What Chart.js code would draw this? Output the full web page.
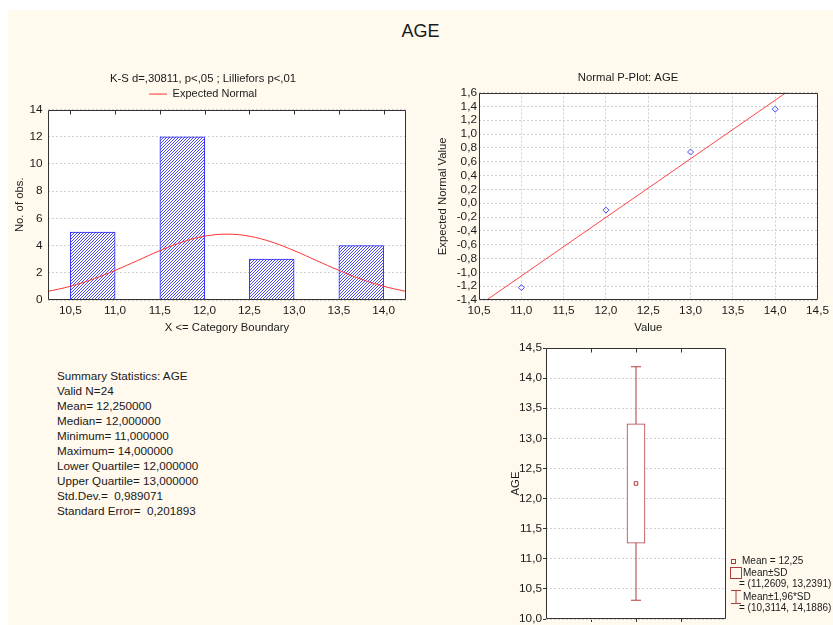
<!DOCTYPE html>
<html>
<head>
<meta charset="utf-8">
<title>AGE</title>
<script src="https://cdn.jsdelivr.net/npm/chart.js@4.4.1/dist/chart.umd.min.js"></script>
<style>
  html, body { margin: 0; padding: 0; background: #ffffff; width: 833px; height: 625px; overflow: hidden; }
  #sheet { position: absolute; left: 8px; top: 10px; width: 825px; height: 615px; background: #FFF9EE; }
  canvas { position: absolute; }
  .txt { position: absolute; font-family: 'Liberation Sans', Arial, sans-serif; color: #1a1a1a; white-space: pre; }
  #mainTitle { left: 8px; width: 825px; top: 20px; line-height: 22px; font-size: 18px; text-align: center; }
  #summary { left: 57px; top: 368px; font-size: 11.7px; line-height: 15px; }
  .leg { font-size: 10px; line-height: 12px; }
  .icon { position: absolute; box-sizing: border-box; border: 1px solid #b03c3c; }
</style>
</head>
<body>
<div id="sheet"></div>
<div id="mainTitle" class="txt">AGE</div>
<canvas id="hist" width="420" height="274" style="left:0px;top:67px"></canvas>
<canvas id="pplot" width="398" height="275" style="left:435px;top:66px"></canvas>
<canvas id="box" width="353" height="295" style="left:480px;top:330px"></canvas>
<div id="summary" class="txt"></div>
<div id="boxLegend"></div>

<script>
// ---- Histogram of AGE (bin width 0,5; label = upper category boundary) ----
const binCenters = [10.75, 11.25, 11.75, 12.25, 12.75, 13.25, 13.75];
const binCounts  = [5, 0, 12, 0, 3, 0, 4];
const boundaryTicks = [10.5, 11.0, 11.5, 12.0, 12.5, 13.0, 13.5, 14.0];
const countTicks = [0, 2, 4, 6, 8, 10, 12, 14];

// Expected normal counts (mean 12,25; SD 0,989071; N 24) sampled every 0,25
const normalX = [10.25, 10.5, 10.75, 11.0, 11.25, 11.5, 11.75, 12.0, 12.25,
                 12.5, 12.75, 13.0, 13.25, 13.5, 13.75, 14.0, 14.25];
const normalY = [0.63, 1.01, 1.53, 2.18, 2.90, 3.63, 4.26, 4.69, 4.84,
                 4.69, 4.26, 3.63, 2.90, 2.18, 1.53, 1.01, 0.63];

// ---- Normal probability plot ----
const ageValues = [11, 12, 13, 14];
const expectedNormal = [-1.22, -0.10, 0.74, 1.36];
const fitLineX = [10.59, 14.13];
const fitLineY = [-1.4, 1.6];
const valueTicks = [10.5, 11.0, 11.5, 12.0, 12.5, 13.0, 13.5, 14.0, 14.5];
const zTicks = [-1.4, -1.2, -1.0, -0.8, -0.6, -0.4, -0.2, 0.0, 0.2, 0.4, 0.6, 0.8, 1.0, 1.2, 1.4, 1.6];

// ---- Box plot: mean, mean±SD, mean±1,96*SD ----
const ageMean = 12.25;
const ageSdRange = [11.2609, 13.2391];
const age196Range = [10.3114, 14.1886];
const ageTicks = [10.0, 10.5, 11.0, 11.5, 12.0, 12.5, 13.0, 13.5, 14.0, 14.5];
const boxSlotTicks = [1, 2, 3];
const boxSlot = 2;

// ---- Summary statistics ----
const summaryLines = [
  'Summary Statistics: AGE',
  'Valid N=24',
  'Mean= 12,250000',
  'Median= 12,000000',
  'Minimum= 11,000000',
  'Maximum= 14,000000',
  'Lower Quartile= 12,000000',
  'Upper Quartile= 13,000000',
  'Std.Dev.=  0,989071',
  'Standard Error=  0,201893'
];

const FONT = "'Liberation Sans', Arial, sans-serif";
const INK = '#1a1a1a';
const BOX_RED = '#b03c3c';
const TICK_FONT = { family: FONT, size: 11.8, weight: 'normal' };
const TITLE_FONT = { family: FONT, size: 11.3, weight: 'normal' };

const fmt = (v, d) => v.toFixed(d).replace('.', ',');

Chart.defaults.font.family = FONT;
Chart.defaults.color = INK;

// Summary text block
document.getElementById('summary').textContent = summaryLines.join('\n');

// White plot background, dark frame and inward ticks along the top edge
const plotFrame = {
  id: 'plotFrame',
  beforeDraw(chart) {
    const { ctx, chartArea: a } = chart;
    ctx.save();
    ctx.fillStyle = '#ffffff';
    ctx.fillRect(a.left, a.top, a.right - a.left, a.bottom - a.top);
    ctx.restore();
  },
  afterDraw(chart, args, opts) {
    const { ctx, chartArea: a, scales } = chart;
    const len = opts.tickLength || 4;
    const L = Math.round(a.left) + 0.5, R = Math.round(a.right) - 0.5;
    const T = Math.round(a.top) + 0.5, B = Math.round(a.bottom) - 0.5;
    ctx.save();
    ctx.strokeStyle = '#333333';
    ctx.lineWidth = 1;
    ctx.beginPath();
    ctx.rect(L, T, R - L, B - T);
    if (opts.topTicks) {
      scales.x.ticks.forEach(t => {
        const px = Math.round(scales.x.getPixelForValue(t.value)) + 0.5;
        ctx.moveTo(px, T); ctx.lineTo(px, T + len);
      });
    }
    if (opts.rightTicks) {
      scales.y.ticks.forEach(t => {
        const py = Math.round(scales.y.getPixelForValue(t.value)) + 0.5;
        ctx.moveTo(R, py); ctx.lineTo(R + len, py);
      });
    }
    ctx.stroke();
    ctx.restore();
  }
};

// Fine diagonal hatch used for the histogram bars
function hatch(color) {
  const c = document.createElement('canvas');
  c.width = 3; c.height = 3;
  const g = c.getContext('2d');
  g.fillStyle = '#ffffff';
  g.fillRect(0, 0, 3, 3);
  g.fillStyle = color;
  g.fillRect(0, 2, 1, 1);
  g.fillRect(1, 1, 1, 1);
  g.fillRect(2, 0, 1, 1);
  return g.createPattern(c, 'repeat');
}

const gridGray = '#cfcfcf';

// ---------------- Histogram ----------------
new Chart(document.getElementById('hist'), {
  type: 'bar',
  data: {
    datasets: [
      {
        type: 'line',
        label: 'Expected Normal',
        data: normalX.map((x, i) => ({ x, y: normalY[i] })),
        borderColor: '#ff3333',
        borderWidth: 1,
        pointRadius: 0,
        tension: 0.4,
        order: 0
      },
      {
        type: 'bar',
        label: 'AGE',
        data: binCenters.map((x, i) => ({ x, y: binCounts[i] })),
        backgroundColor: hatch('#4a4aee'),
        borderColor: '#2626ff',
        borderWidth: 1,
        categoryPercentage: 1,
        barPercentage: 1,
        order: 1
      }
    ]
  },
  options: {
    responsive: false,
    animation: false,
    devicePixelRatio: 1,
    layout: { padding: { left: 0, right: 14, top: 0, bottom: 0 } },
    plugins: {
      title: {
        display: true,
        text: 'K-S d=,30811, p<,05 ; Lilliefors p<,01',
        font: TITLE_FONT, color: INK,
        padding: { top: 5, bottom: 1 }
      },
      legend: {
        display: true,
        labels: {
          filter: item => item.text === 'Expected Normal',
          usePointStyle: true,
          pointStyle: 'line',
          pointStyleWidth: 18,
          font: { family: FONT, size: 11 },
          color: INK,
          padding: 2
        }
      },
      tooltip: { enabled: false },
      plotFrame: { topTicks: true, tickLength: 4 }
    },
    scales: {
      x: {
        type: 'linear',
        min: 10.25, max: 14.25,
        offset: false,
        afterBuildTicks: s => { s.ticks = boundaryTicks.map(v => ({ value: v })); },
        afterFit: s => { s.height = 41; },
        ticks: { font: TICK_FONT, color: INK, padding: 4, autoSkip: false, maxRotation: 0, callback: v => fmt(v, 1) },
        grid: { drawOnChartArea: false, drawTicks: false, offset: false },
        border: { display: false },
        title: { display: true, text: 'X <= Category Boundary', font: TITLE_FONT, color: INK, padding: { top: 0, bottom: 6 } }
      },
      y: {
        min: 0, max: 14,
        afterBuildTicks: s => { s.ticks = countTicks.map(v => ({ value: v })); },
        afterFit: s => { s.width = 48; },
        ticks: { font: TICK_FONT, color: INK, padding: 5.5, callback: v => String(v) },
        grid: { color: gridGray, drawTicks: false },
        border: { display: false, dash: [2, 2] },
        title: { display: true, text: 'No. of obs.', font: TITLE_FONT, color: INK, padding: { top: 13, bottom: 0 } }
      }
    }
  },
  plugins: [plotFrame]
});

// ---------------- Normal P-Plot ----------------
new Chart(document.getElementById('pplot'), {
  type: 'scatter',
  data: {
    datasets: [
      {
        label: 'Fit',
        data: fitLineX.map((x, i) => ({ x, y: fitLineY[i] })),
        showLine: true,
        borderColor: '#ff4444',
        borderWidth: 1,
        pointRadius: 0,
        order: 1
      },
      {
        label: 'AGE',
        data: ageValues.map((x, i) => ({ x, y: expectedNormal[i] })),
        pointStyle: 'rectRot',
        pointRadius: 3,
        borderColor: '#4a4aff',
        backgroundColor: 'rgba(255,255,255,0)',
        borderWidth: 1,
        order: 0
      }
    ]
  },
  options: {
    responsive: false,
    animation: false,
    devicePixelRatio: 1,
    layout: { padding: { left: 0, right: 12, top: 0, bottom: 0 } },
    plugins: {
      title: {
        display: true,
        text: 'Normal P-Plot: AGE',
        font: TITLE_FONT, color: INK,
        padding: { top: 5, bottom: 8 }
      },
      legend: { display: false },
      tooltip: { enabled: false },
      plotFrame: { tickLength: 4 }
    },
    scales: {
      x: {
        type: 'linear',
        min: 10.5, max: 14.5,
        afterBuildTicks: s => { s.ticks = valueTicks.map(v => ({ value: v })); },
        afterFit: s => { s.height = 41; },
        ticks: { font: TICK_FONT, color: INK, padding: 4, autoSkip: false, maxRotation: 0, callback: v => fmt(v, 1) },
        grid: { color: gridGray, drawTicks: false },
        border: { display: false, dash: [2, 2] },
        title: { display: true, text: 'Value', font: TITLE_FONT, color: INK, padding: { top: 0, bottom: 6 } }
      },
      y: {
        min: -1.4, max: 1.6,
        afterBuildTicks: s => { s.ticks = zTicks.map(v => ({ value: v })); },
        afterFit: s => { s.width = 44; },
        ticks: { font: TICK_FONT, color: INK, padding: 2, autoSkip: false, callback: v => fmt(v, 1) },
        grid: { color: gridGray, drawTicks: false },
        border: { display: false, dash: [2, 2] },
        title: { display: true, text: 'Expected Normal Value', font: TITLE_FONT, color: INK, padding: { top: 1.5, bottom: 0 } }
      }
    }
  },
  plugins: [plotFrame]
});

// ---------------- Box plot ----------------
new Chart(document.getElementById('box'), {
  type: 'bar',
  data: {
    datasets: [
      {
        type: 'line',
        label: 'Mean±1,96*SD',
        data: age196Range.map(y => ({ x: boxSlot, y })),
        borderColor: BOX_RED,
        borderWidth: 1,
        pointStyle: 'line',
        pointRadius: 5,
        pointBorderColor: BOX_RED,
        pointBorderWidth: 1,
        order: 2
      },
      {
        type: 'bar',
        label: 'Mean±SD',
        data: [{ x: boxSlot, y: ageSdRange }],
        backgroundColor: '#ffffff',
        borderColor: BOX_RED,
        borderWidth: 1,
        borderSkipped: false,
        barThickness: 18,
        order: 1
      },
      {
        type: 'line',
        label: 'Mean',
        data: [{ x: boxSlot, y: ageMean }],
        showLine: false,
        pointStyle: 'rect',
        pointRadius: 2.5,
        borderColor: BOX_RED,
        backgroundColor: '#ffffff',
        borderWidth: 1,
        order: 0
      }
    ]
  },
  options: {
    responsive: false,
    animation: false,
    devicePixelRatio: 1,
    layout: { padding: { left: 0, right: 107, top: 18, bottom: 0 } },
    plugins: {
      legend: { display: false },
      title: { display: false },
      tooltip: { enabled: false },
      plotFrame: { topTicks: true, tickLength: 4 }
    },
    scales: {
      x: {
        type: 'linear',
        min: 0, max: 4,
        offset: false,
        afterBuildTicks: s => { s.ticks = boxSlotTicks.map(v => ({ value: v })); },
        afterFit: s => { s.height = 3; s.paddingLeft = 0; s.paddingRight = 0; },
        ticks: { display: false },
        grid: { drawOnChartArea: false, drawTicks: true, tickLength: 3, tickColor: '#333333', offset: false },
        border: { display: false }
      },
      y: {
        min: 10.0, max: 14.5,
        afterBuildTicks: s => { s.ticks = ageTicks.map(v => ({ value: v })); },
        afterFit: s => { s.width = 66; s.paddingTop = 0; s.paddingBottom = 0; },
        ticks: { font: TICK_FONT, color: INK, padding: 1, autoSkip: false, callback: v => fmt(v, 1) },
        grid: { color: gridGray, drawTicks: true, tickLength: 3, tickColor: '#333333' },
        border: { display: false, dash: [2, 2] },
        title: { display: true, text: 'AGE', font: TITLE_FONT, color: INK, padding: { top: 29, bottom: 0 } }
      }
    }
  },
  plugins: [plotFrame]
});

// Box plot key
const legendHtml = [
  `<div class="icon" style="left:731px;top:559px;width:5px;height:5px"></div>`,
  `<div class="txt leg" style="left:742px;top:555px">Mean = ${fmt(ageMean, 2)}</div>`,
  `<div class="icon" style="left:730px;top:567px;width:12px;height:12px"></div>`,
  `<div class="txt leg" style="left:743px;top:567px">Mean±SD</div>`,
  `<div class="txt leg" style="left:739px;top:578px">= (${fmt(ageSdRange[0], 4)}, ${fmt(ageSdRange[1], 4)})</div>`,
  `<svg style="position:absolute;left:730px;top:590px" width="12" height="14"><path d="M1 0.5 H11 M6 0.5 V13.5 M1 13.5 H11" stroke="${BOX_RED}" stroke-width="1" fill="none"/></svg>`,
  `<div class="txt leg" style="left:743px;top:591px">Mean±1,96*SD</div>`,
  `<div class="txt leg" style="left:739px;top:602px">= (${fmt(age196Range[0], 4)}, ${fmt(age196Range[1], 4)})</div>`
];
document.getElementById('boxLegend').innerHTML = legendHtml.join('');
</script>
</body>
</html>
